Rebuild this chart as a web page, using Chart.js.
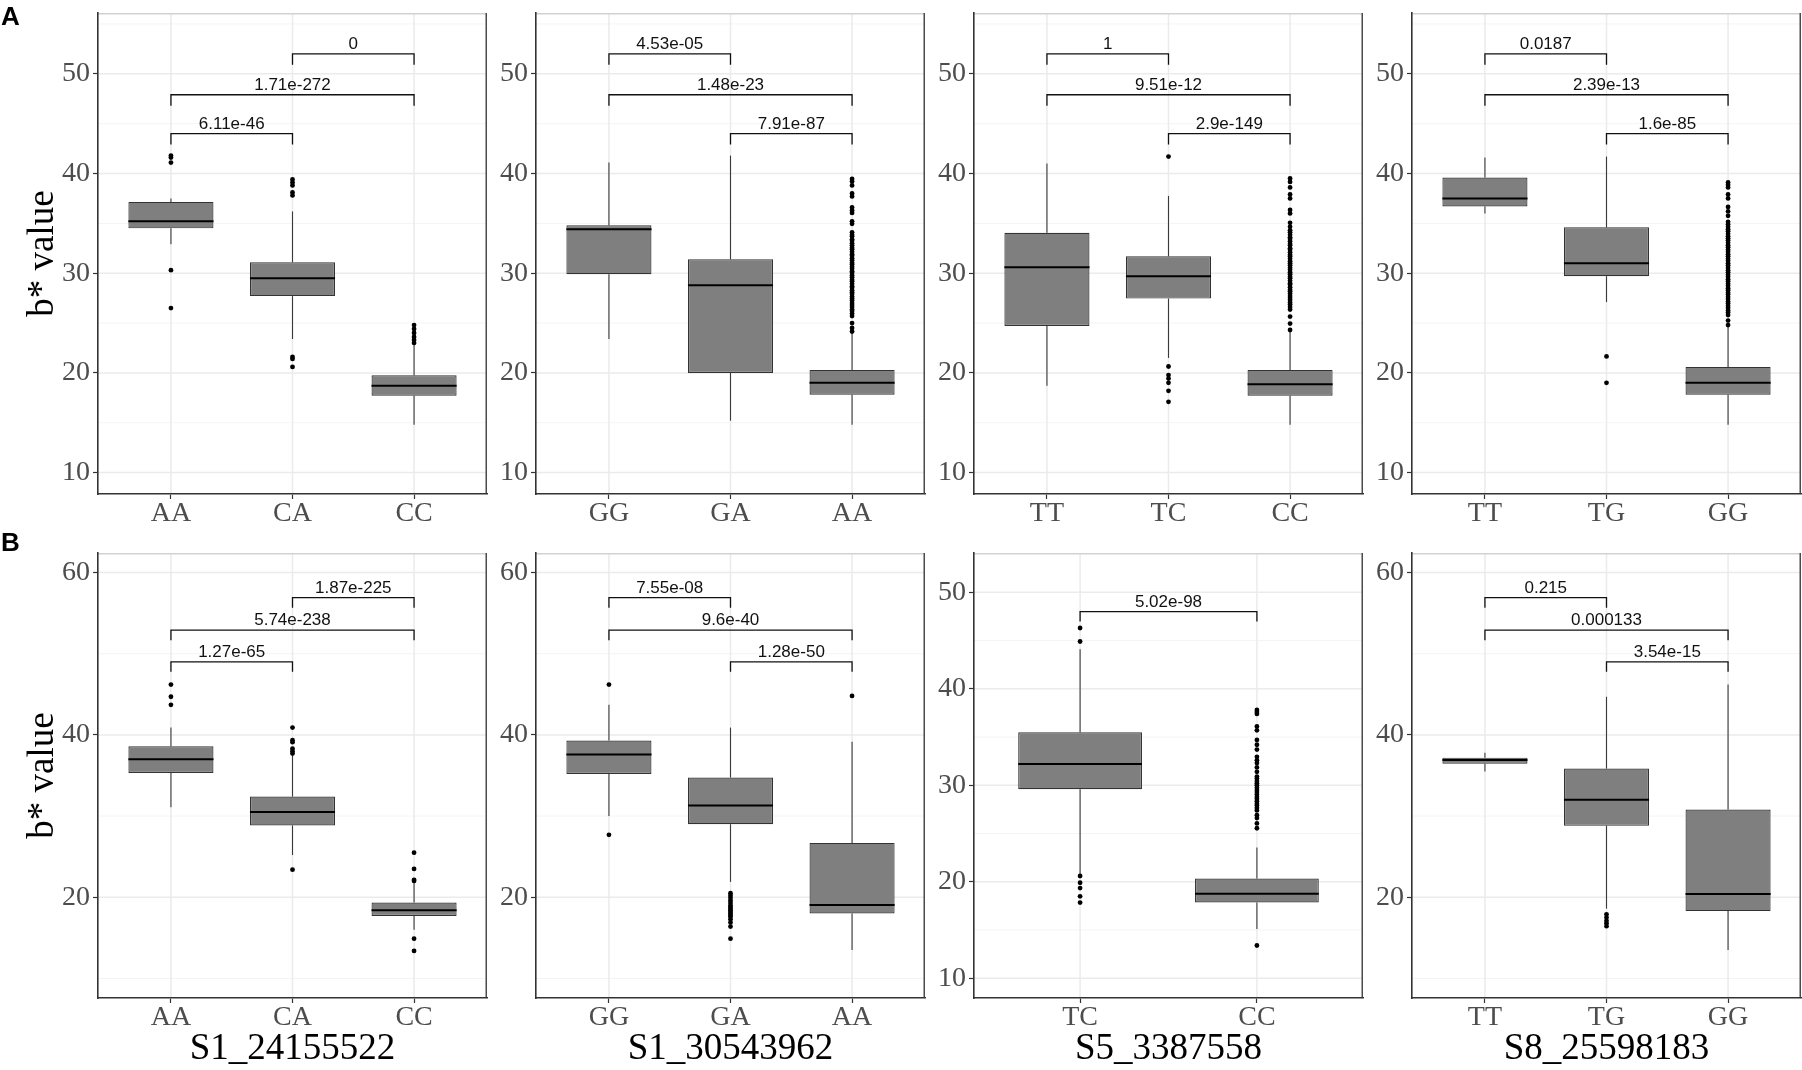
<!DOCTYPE html>
<html><head><meta charset="utf-8">
<script src="https://cdn.jsdelivr.net/npm/chart.js@4.4.1/dist/chart.umd.min.js"></script>
<style>
html,body{margin:0;padding:0;background:#fff;}
body{width:1802px;height:1070px;overflow:hidden;position:relative;}
canvas{position:absolute;}
.tag{position:absolute;font-family:"Liberation Sans",Arial,sans-serif;font-weight:bold;font-size:26px;line-height:26px;color:#000;z-index:5;}
</style></head><body>
<div class="tag" style="left:1px;top:3px">A</div>
<div class="tag" style="left:1px;top:529px">B</div>
<script>
// ---------- DATA ----------
// panels 0-3: row A, panels 4-7: row B (same SNP order in columns)
const snpNames = ['S1_24155522', 'S1_30543962', 'S5_3387558', 'S8_25598183'];
const yTitle = 'b* value';

const categories = [
  ['AA', 'CA', 'CC'], ['GG', 'GA', 'AA'], ['TT', 'TC', 'CC'], ['TT', 'TG', 'GG'],
  ['AA', 'CA', 'CC'], ['GG', 'GA', 'AA'], ['TC', 'CC'], ['TT', 'TG', 'GG']
];
const whiskerLow = [
  [32.9, 23.4, 14.8], [23.4, 15.2, 14.8], [18.7, 21.5, 14.8], [36.0, 27.1, 14.8],
  [31.1, 25.2, 16.0], [30.0, 21.9, 13.5], [20.8, 15.1], [35.5, 18.6, 13.5]
];
const q1 = [
  [34.5, 27.7, 17.7], [29.9, 20.0, 17.8], [24.7, 27.45, 17.7], [36.7, 29.7, 17.8],
  [35.3, 28.85, 17.7], [35.2, 29.0, 18.0], [29.6, 17.85], [36.45, 28.8, 18.3]
];
const median = [
  [35.2, 29.5, 18.7], [34.4, 28.8, 19.0], [30.6, 29.7, 18.85], [37.5, 31.0, 19.0],
  [37.0, 30.5, 18.4], [37.6, 31.3, 19.05], [32.2, 18.75], [36.9, 32.0, 20.4]
];
const q3 = [
  [37.15, 31.1, 19.75], [34.8, 31.4, 20.3], [34.05, 31.7, 20.3], [39.6, 34.6, 20.6],
  [38.6, 32.4, 19.35], [39.3, 34.75, 26.7], [35.5, 20.35], [37.2, 35.85, 30.8]
];
const whiskerHigh = [
  [37.5, 36.2, 22.8], [41.1, 41.8, 24.0], [41.0, 37.75, 24.1], [41.6, 41.7, 24.6],
  [40.9, 37.4, 21.7], [43.7, 40.9, 39.15], [44.1, 23.55], [37.8, 44.7, 46.2]
];
const outliers = [
  [[41.8, 41.6, 41.1, 30.3, 26.5],
   [39.4, 39.1, 38.8, 38.1, 37.8, 21.6, 21.4, 20.6],
   [24.8, 24.4, 24.0, 23.6, 23.3, 23.0]],
  [[], [],
   [39.45, 39.2, 38.8, 38.0, 37.7, 36.6, 36.3, 36.05, 35.2, 34.95, 34.1, 33.85, 33.7, 33.4, 33.25, 33.0, 32.8,
    32.55, 32.4, 32.15, 31.9, 31.75, 31.5, 31.3, 31.05, 30.9, 30.65, 30.45, 30.2, 30.05, 29.8, 29.6, 29.35,
    29.2, 28.95, 28.7, 28.55, 28.3, 28.1, 27.9, 27.65, 27.45, 27.25, 27.0, 26.8, 26.6, 26.35, 26.2, 25.95,
    25.7, 25.0, 24.5, 24.15]],
  [[],
   [41.7, 20.64, 19.78, 19.43, 19.0, 18.2, 17.1],
   [39.5, 39.15, 38.6, 37.9, 37.5, 36.35, 36.0, 35.05, 34.65, 34.3, 34.1, 33.85, 33.6, 33.45, 33.2, 32.95,
    32.8, 32.5, 32.35, 32.1, 31.85, 31.7, 31.45, 31.2, 31.0, 30.8, 30.55, 30.35, 30.1, 29.9, 29.65, 29.5,
    29.25, 29.0, 28.85, 28.6, 28.35, 28.2, 27.95, 27.7, 27.5, 27.3, 27.05, 26.85, 26.6, 26.35, 25.65, 24.95, 24.3]],
  [[],
   [21.65, 19.0],
   [39.1, 38.85, 38.6, 37.9, 37.5, 36.65, 36.2, 35.75, 35.15, 34.9, 34.65, 34.4, 34.2, 33.95, 33.7, 33.5,
    33.3, 33.05, 32.8, 32.6, 32.35, 32.15, 31.9, 31.7, 31.45, 31.25, 31.0, 30.8, 30.55, 30.3, 30.1, 29.85,
    29.65, 29.4, 29.2, 28.95, 28.75, 28.5, 28.3, 28.05, 27.85, 27.6, 27.4, 27.15, 26.95, 26.7, 26.5, 26.25,
    26.05, 25.8, 25.25, 24.8]],
  [[46.2, 44.7, 43.7],
   [40.9, 39.35, 39.1, 38.3, 38.0, 37.7, 23.4],
   [25.5, 23.5, 22.15, 22.0, 14.9, 13.4]],
  [[46.2, 27.7],
   [20.5, 20.2, 19.9, 19.6, 19.3, 19.0, 18.8, 18.6, 18.4, 18.2, 18.0, 17.8, 17.6, 17.3, 16.9, 16.4, 14.9],
   [44.8]],
  [[46.3, 44.9, 20.6, 19.9, 19.35, 18.5, 17.85],
   [37.8, 37.6, 37.4, 36.1, 35.7, 34.7, 34.2, 33.7, 32.95, 32.6, 32.3, 31.85, 31.4, 30.9, 30.7, 30.45, 30.2,
    30.0, 29.75, 29.5, 29.3, 29.05, 28.8, 28.6, 28.35, 28.1, 27.9, 27.65, 27.4, 26.9, 26.6, 26.05, 25.55, 13.4]],
  [[],
   [17.9, 17.5, 17.1, 16.8, 16.45],
   []]
];
const bracketPairs = [
  [[2, 3], [1, 3], [1, 2]], [[1, 2], [1, 3], [2, 3]], [[1, 2], [1, 3], [2, 3]], [[1, 2], [1, 3], [2, 3]],
  [[2, 3], [1, 3], [1, 2]], [[1, 2], [1, 3], [2, 3]], [[1, 2]], [[1, 2], [1, 3], [2, 3]]
];
const bracketY = [
  [52.0, 47.9, 44.0], [52.0, 47.9, 44.0], [52.0, 47.9, 44.0], [52.0, 47.9, 44.0],
  [56.9, 52.9, 49.0], [56.9, 52.9, 49.0], [48.0], [56.9, 52.9, 49.0]
];
const pLabels = [
  ['0', '1.71e-272', '6.11e-46'], ['4.53e-05', '1.48e-23', '7.91e-87'],
  ['1', '9.51e-12', '2.9e-149'], ['0.0187', '2.39e-13', '1.6e-85'],
  ['1.87e-225', '5.74e-238', '1.27e-65'], ['7.55e-08', '9.6e-40', '1.28e-50'],
  ['5.02e-98'], ['0.215', '0.000133', '3.54e-15']
];
const yMin = [7.85, 7.85, 7.85, 7.85, 7.6, 7.6, 7.96, 7.6];
const yMax = [56.1, 56.1, 56.1, 56.1, 62.4, 62.4, 54.07, 62.4];
const yMajor = [
  [10, 20, 30, 40, 50], [10, 20, 30, 40, 50], [10, 20, 30, 40, 50], [10, 20, 30, 40, 50],
  [20, 40, 60], [20, 40, 60], [10, 20, 30, 40, 50], [20, 40, 60]
];
const yMinor = [
  [15, 25, 35, 45, 55], [15, 25, 35, 45, 55], [15, 25, 35, 45, 55], [15, 25, 35, 45, 55],
  [10, 30, 50], [10, 30, 50], [15, 25, 35, 45], [10, 30, 50]
];

// ---------- LAYOUT / STYLE ----------
const PLOT_LEFT = [98, 536, 974, 1412], PLOT_W = 389;
const ROW_TOP = [13, 553], ROW_H = [481, 445], XAXIS_H = [45, 70], TIP = [11, 10];
const YAXIS_W = 73, PAD_TOP = 24, PAD_RIGHT = 6;
const SERIF = '"Liberation Serif", "Times New Roman", serif';
const SANS = '"Liberation Sans", Arial, sans-serif';

function hLine(ctx, x1, x2, y) { ctx.beginPath(); ctx.moveTo(x1, y); ctx.lineTo(x2, y); ctx.stroke(); }
function vLine(ctx, x, y1, y2) { ctx.beginPath(); ctx.moveTo(x, y1); ctx.lineTo(x, y2); ctx.stroke(); }

const boxExtras = {
  id: 'boxExtras',
  beforeDraw(chart, args, opts) {
    const p = opts.panel;
    const {ctx, chartArea: a, scales: {x, y}} = chart;
    ctx.save();
    ctx.beginPath(); ctx.rect(a.left, a.top, a.right - a.left, a.bottom - a.top); ctx.clip();
    ctx.strokeStyle = '#f3f3f3'; ctx.lineWidth = 0.9;
    yMinor[p].forEach(v => hLine(ctx, a.left, a.right, y.getPixelForValue(v)));
    ctx.strokeStyle = '#ebebeb'; ctx.lineWidth = 1.5;
    yMajor[p].forEach(v => hLine(ctx, a.left, a.right, y.getPixelForValue(v)));
    categories[p].forEach((c, i) => vLine(ctx, x.getPixelForValue(i + 1), a.top, a.bottom));
    ctx.restore();
    ctx.save();
    ctx.strokeStyle = '#d2d2d2'; ctx.lineWidth = 1.5;
    hLine(ctx, a.left, a.right, a.top + 0.75);
    ctx.strokeStyle = '#4a4a4a'; ctx.lineWidth = 1.5;
    vLine(ctx, a.right - 0.75, a.top, a.bottom);
    ctx.restore();
  },
  beforeDatasetsDraw(chart, args, opts) {
    const p = opts.panel;
    const {ctx, scales: {x, y}} = chart;
    ctx.save();
    ctx.strokeStyle = '#3a3a3a'; ctx.lineWidth = 1.1;
    categories[p].forEach((c, i) => {
      const px = x.getPixelForValue(i + 1);
      vLine(ctx, px, y.getPixelForValue(q3[p][i]), y.getPixelForValue(whiskerHigh[p][i]));
      vLine(ctx, px, y.getPixelForValue(q1[p][i]), y.getPixelForValue(whiskerLow[p][i]));
    });
    ctx.restore();
  },
  afterDatasetsDraw(chart, args, opts) {
    const p = opts.panel;
    const row = p < 4 ? 0 : 1;
    const {ctx, scales: {x, y}} = chart;
    const meta = chart.getDatasetMeta(0);
    ctx.save();
    ctx.strokeStyle = '#000'; ctx.lineWidth = 2;
    meta.data.forEach((el, i) => {
      const {x: bx, width: bw} = el.getProps(['x', 'width'], true);
      hLine(ctx, bx - bw / 2, bx + bw / 2, y.getPixelForValue(median[p][i]));
    });
    ctx.strokeStyle = '#111'; ctx.lineWidth = 1.3;
    ctx.fillStyle = '#111'; ctx.font = '17px ' + SANS;
    ctx.textAlign = 'center'; ctx.textBaseline = 'alphabetic';
    bracketPairs[p].forEach((pr, k) => {
      const x1 = x.getPixelForValue(pr[0]), x2 = x.getPixelForValue(pr[1]);
      const py = y.getPixelForValue(bracketY[p][k]);
      ctx.beginPath();
      ctx.moveTo(x1, py + TIP[row]); ctx.lineTo(x1, py); ctx.lineTo(x2, py); ctx.lineTo(x2, py + TIP[row]);
      ctx.stroke();
      ctx.fillText(pLabels[p][k], (x1 + x2) / 2, py - 5);
    });
    ctx.restore();
  }
};

function makePanel(p) {
  const row = p < 4 ? 0 : 1, col = p % 4;
  const cats = categories[p];
  const canvasLeft = col === 0 ? 0 : PLOT_LEFT[col] - YAXIS_W;
  const padLeft = col === 0 ? PLOT_LEFT[0] - YAXIS_W : 0;
  const top = ROW_TOP[row] - PAD_TOP;
  const w = PLOT_LEFT[col] + PLOT_W + PAD_RIGHT - canvasLeft;
  const h = PAD_TOP + ROW_H[row] + XAXIS_H[row];
  const cv = document.createElement('canvas');
  cv.width = w; cv.height = h;
  cv.style.left = canvasLeft + 'px'; cv.style.top = top + 'px';
  cv.style.width = w + 'px'; cv.style.height = h + 'px';
  document.body.appendChild(cv);

  const tickFont = {family: SERIF, size: 28};
  const titleFont = {family: SERIF, size: 37, lineHeight: 1};
  new Chart(cv, {
    type: 'bar',
    data: {
      datasets: [
        {
          type: 'bar', label: 'IQR',
          data: cats.map((c, i) => ({x: i + 1, y: [q1[p][i], q3[p][i]]})),
          backgroundColor: '#7f7f7f', borderColor: '#333333', borderWidth: 1.2,
          borderSkipped: false, barPercentage: 0.7, categoryPercentage: 1.0
        },
        {
          type: 'scatter', label: 'outliers',
          data: cats.flatMap((c, i) => outliers[p][i].map(v => ({x: i + 1, y: v}))),
          pointRadius: 2.4, pointBackgroundColor: '#000', pointBorderWidth: 0, showLine: false
        }
      ]
    },
    options: {
      responsive: false, animation: false, events: [], devicePixelRatio: 1,
      layout: {padding: {left: padLeft, top: PAD_TOP, right: PAD_RIGHT, bottom: 0}},
      plugins: {legend: {display: false}, tooltip: {enabled: false}, boxExtras: {panel: p}},
      scales: {
        x: {
          type: 'linear', offset: false, min: 0.4, max: cats.length + 0.6,
          afterBuildTicks: s => { s.ticks = cats.map((c, i) => ({value: i + 1})); },
          afterFit: s => { s.height = XAXIS_H[row]; },
          ticks: {callback: v => cats[Math.round(v) - 1], autoSkip: false, maxRotation: 0, minRotation: 0,
                  padding: -2, color: '#4d4d4d', font: tickFont},
          grid: {offset: false, drawOnChartArea: false, drawTicks: true, tickLength: 5, tickColor: '#333', tickWidth: 1.2},
          border: {display: true, color: '#333', width: 1.6},
          title: row === 1 ? {display: true, text: snpNames[col], color: '#000', font: titleFont, padding: 0}
                           : {display: false}
        },
        y: {
          type: 'linear', min: yMin[p], max: yMax[p],
          afterBuildTicks: s => { s.ticks = yMajor[p].map(v => ({value: v})); },
          afterFit: s => { s.width = YAXIS_W; },
          ticks: {padding: 3, color: '#4d4d4d', font: tickFont},
          grid: {drawOnChartArea: false, drawTicks: true, tickLength: 5, tickColor: '#333', tickWidth: 1.2},
          border: {display: true, color: '#333', width: 1.6},
          title: col === 0 ? {display: true, text: yTitle, color: '#000', font: titleFont, padding: 0}
                           : {display: false}
        }
      }
    },
    plugins: [boxExtras]
  });
}

for (let p = 0; p < 8; p++) makePanel(p);
</script>
</body></html>
